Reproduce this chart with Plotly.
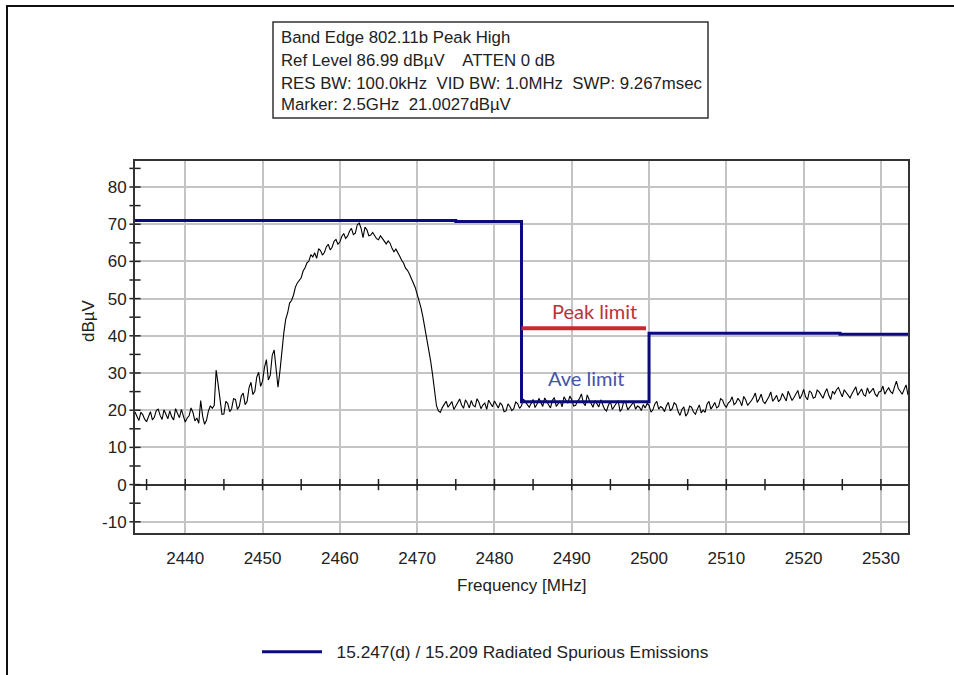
import numpy as np
import plotly.graph_objects as go

# ---------------- data ----------------
f_start, f_step = 2433.5, 0.25
spectrum_dbuv = [
    # 2433.50 - 2452.00
    19.5, 18.1, 17.2, 19.4, 18.8, 17.6, 16.9, 18.3, 19.6, 17.4, 18.1, 19.9, 20.3, 18.6, 17.5, 20.1, 18.9, 17.7, 19.8, 18.2,
    17.4, 20.4, 19.1, 18.0, 20.2, 18.7, 16.8, 17.9, 18.5, 20.6, 19.4, 17.1, 17.9, 16.5, 22.6, 18.4, 16.2, 17.3, 19.8, 21.2,
    20.5, 21.3, 30.8, 27.0, 23.5, 18.9, 19.0, 22.4, 21.8, 19.6, 20.4, 23.1, 22.9, 20.2, 21.1, 23.8, 24.6, 21.5, 22.3, 26.0,
    27.5, 24.2, 25.1, 28.9, 30.2, 26.4, 27.8, 31.5, 33.6, 28.1, 29.4, 34.7, 36.2, 31.0, 26.2,
    # 2452.25 - 2473.50
    30.5, 36.5, 40.8, 44.5, 46.2, 48.8, 49.5, 50.9, 53.1, 54.2, 54.9, 55.6, 57.4, 58.3, 59.6, 60.1, 61.8, 61.2, 62.3, 60.8,
    63.4, 62.9, 61.7, 62.4, 63.9, 64.6, 63.1, 63.8, 65.4, 65.9, 64.6, 65.2, 66.7, 67.5, 66.2, 66.8, 68.1, 68.9, 67.2, 67.6,
    69.8, 70.3, 68.9, 66.4, 69.2, 68.5, 66.9, 67.1, 67.8, 66.9, 66.1, 65.8, 66.9, 66.2, 65.3, 64.7, 65.5, 64.9, 63.5, 62.6,
    63.3, 62.1, 61.4, 60.3, 59.5, 58.2, 57.6, 56.6, 55.3, 54.5, 53.0, 51.2, 49.6, 47.5, 45.0, 42.1, 39.6, 36.8, 33.2, 29.5,
    25.0, 21.2, 19.8, 19.4, 20.7, 21.6,
    # 2473.75 - 2483.00
    22.4, 20.8, 21.6, 22.3, 20.2, 21.1, 22.0, 23.0, 21.4, 20.5, 22.8, 21.9, 20.6, 22.6, 21.3, 20.9, 23.1, 22.1, 20.4, 21.4,
    21.9, 20.2, 22.7, 21.7, 20.9, 22.5, 21.6, 20.6, 22.0, 21.3, 19.6, 19.8, 21.7, 21.0, 19.9, 20.4, 22.2, 21.8,
    # 2483.25 - 2499.50
    20.5, 21.2, 23.0, 22.4, 21.5, 20.8, 22.1, 22.9, 20.7, 21.6, 23.2, 22.1, 21.0, 23.3, 22.5, 21.4, 20.6, 22.7, 23.4, 21.0,
    21.8, 22.5, 20.9, 23.6, 22.7, 21.9, 23.8, 22.8, 21.1, 21.3, 22.4, 23.1, 24.4, 22.0, 21.2, 24.1, 22.9, 21.7, 20.8, 22.6,
    21.8, 20.9, 22.8, 21.5, 20.3, 19.8, 21.4, 22.3, 20.2, 21.0, 21.9, 22.6, 19.7, 20.4, 22.5, 21.9, 20.1, 20.7, 21.6, 22.2,
    20.3, 21.1, 20.8, 19.9, 21.5, 20.6,
    # 2499.75 - 2507.00
    21.8, 21.3, 19.5, 20.1, 21.7, 22.4, 20.3, 21.0, 20.6, 19.6, 21.2, 22.1, 19.8, 20.4, 22.0, 21.5, 19.7, 18.6, 20.2, 20.9,
    18.4, 19.2, 21.1, 20.8, 19.5, 18.9, 20.3, 21.4, 19.3, 20.0,
    # 2507.25 - 2533.50
    19.4, 21.6, 22.4, 20.3, 21.1, 22.1, 20.6, 21.0, 23.1, 22.7, 21.4, 20.8, 21.9, 22.4, 23.6, 21.5, 22.0, 23.2, 22.5, 21.2,
    23.7, 22.8, 21.3, 21.9, 22.6, 23.5, 24.6, 22.1, 23.0, 24.3, 22.4, 21.8, 22.7, 23.6, 24.9, 22.4, 23.1, 24.0, 22.3, 22.9,
    24.5, 23.4, 22.5, 25.1, 23.9, 22.6, 23.4, 24.2, 25.3, 23.1, 24.0, 25.6, 23.6, 22.8, 25.2, 24.7, 23.2, 23.5, 25.4, 24.9,
    23.9, 23.2, 24.7, 25.8, 24.0, 22.9, 25.1, 24.4, 25.5, 26.1, 24.8, 23.6, 25.5, 24.8, 23.9, 23.3, 24.4, 25.2, 26.3, 24.0,
    24.8, 25.7, 24.2, 23.8, 26.0, 24.6, 25.2, 25.9, 24.3, 23.7, 24.9, 25.1, 26.5, 24.3, 25.3, 26.0, 25.0, 24.5, 26.2, 27.8,
    25.8, 24.9, 24.3, 25.6, 26.8, 24.1,
]
spectrum_freq = f_start + f_step * np.arange(len(spectrum_dbuv))

limit_freq = [2433.5, 2475.0, 2483.5, 2500.0, 2524.7, 2533.5]
limit_dbuv = [71.0, 70.7, 22.3, 40.7, 40.4, 40.4]

peak_freq = [2483.5, 2499.6]
peak_dbuv = [42.0, 42.0]

x_range = [2433.5, 2533.5]
y_range = [-13.01, 86.99]
x_ticks = list(range(2440, 2531, 10))
y_ticks = list(range(-10, 81, 10))
y_tick_labels = ["-10", "0", "10", "20", "30", "40", "50", "60", "70", "80"]
x_minor_ticks = list(range(2435, 2531, 5))
y_minor_ticks = list(range(-10, 86, 5))

info_lines = [
    "Band Edge 802.11b Peak High",
    "Ref Level 86.99 dBµV    ATTEN 0 dB",
    "RES BW: 100.0kHz  VID BW: 1.0MHz  SWP: 9.267msec",
    "Marker: 2.5GHz  21.0027dBµV",
]
legend_name = "15.247(d) / 15.209 Radiated Spurious Emissions"

# ---------------- layout geometry (pixels) ----------------
W, H = 954, 675
L, R, T, B = 135, 46, 161, 142
PW, PH = W - L - R, H - T - B


def px_x(p):
    return (p - L) / PW


def px_y(p):
    return (H - B - p) / PH


FONT = "Liberation Sans, Arial, sans-serif"
LABEL_FONT = "Lato, Open Sans, sans-serif"
INK = "#222222"

fig = go.Figure()

fig.add_trace(go.Scatter(
    x=spectrum_freq, y=spectrum_dbuv, mode="lines",
    line=dict(color="black", width=1.1), showlegend=False, hoverinfo="skip"))

fig.add_trace(go.Scatter(
    x=limit_freq, y=limit_dbuv, mode="lines", line_shape="hv",
    line=dict(color="#0b0b7e", width=3),
    name="\u00a0\u00a0" + legend_name, showlegend=True))

fig.add_trace(go.Scatter(
    x=peak_freq, y=peak_dbuv, mode="lines",
    line=dict(color="#c42a2f", width=4), showlegend=False, hoverinfo="skip"))

# tick marks crossing the zero line
fig.add_trace(go.Scatter(
    x=x_minor_ticks, y=[0] * len(x_minor_ticks), mode="markers",
    marker=dict(symbol="line-ns", size=8, line=dict(color=INK, width=1.5)),
    showlegend=False, hoverinfo="skip", cliponaxis=False))

# tick marks crossing the y axis line
fig.add_trace(go.Scatter(
    x=[x_range[0]] * len(y_minor_ticks), y=y_minor_ticks, mode="markers",
    marker=dict(symbol="line-ew", size=8, line=dict(color=INK, width=1.5)),
    showlegend=False, hoverinfo="skip", cliponaxis=False))

fig.update_layout(
    width=W, height=H,
    margin=dict(l=L, r=R, t=T, b=B, autoexpand=False),
    paper_bgcolor="white", plot_bgcolor="white",
    font=dict(family=FONT, size=17, color=INK),
    xaxis=dict(
        range=x_range, tickvals=x_ticks, ticks="outside", ticklen=9,
        tickcolor="rgba(0,0,0,0)", showgrid=True, gridcolor="#c4c4c4",
        gridwidth=1.5, showline=True, linecolor="#333333", linewidth=2,
        mirror=True, zeroline=False, tickfont=dict(size=17),
        automargin=False),
    yaxis=dict(
        range=y_range, tickvals=y_ticks, ticktext=y_tick_labels,
        ticks="outside", ticklen=3,
        tickcolor="rgba(0,0,0,0)", showgrid=True, gridcolor="#c4c4c4",
        gridwidth=1.5, showline=True, linecolor="#333333", linewidth=2,
        mirror=True, zeroline=True, zerolinecolor="#333333",
        zerolinewidth=2, tickfont=dict(size=17), automargin=False),
    legend=dict(
        orientation="h", xref="container", yref="container",
        x=257 / W, y=(H - 652) / H, xanchor="left", yanchor="middle",
        font=dict(size=17.3), bgcolor="rgba(0,0,0,0)", itemwidth=60),
    showlegend=True,
)

annotations = [
    dict(text="dBµV", x=px_x(88), y=px_y(321), xref="paper", yref="paper",
         xanchor="center", yanchor="middle",
         textangle=-90, showarrow=False, font=dict(size=17)),
    dict(text="Frequency [MHz]", x=px_x(521), y=px_y(585), xref="paper",
         yref="paper", xanchor="center", yanchor="middle",
         showarrow=False, font=dict(size=17)),
    dict(text="Peak limit", x=2493.0, y=46.7, xref="x", yref="y",
         xanchor="center", yanchor="middle", showarrow=False,
         font=dict(family=LABEL_FONT, size=20, color="#b83439")),
    dict(text="Ave limit", x=2491.8, y=28.6, xref="x", yref="y",
         xanchor="center", yanchor="middle", showarrow=False,
         font=dict(family=LABEL_FONT, size=20, color="#4454a8")),
]
line_y = [37.7, 60.0, 83.3, 104.3]
for txt, yy in zip(info_lines, line_y):
    annotations.append(dict(
        text=txt, x=px_x(279), y=px_y(yy), xref="paper", yref="paper",
        xanchor="left", yanchor="middle", showarrow=False,
        font=dict(size=16.8)))
fig.update_layout(annotations=annotations)

shapes = [
    # info box
    dict(type="rect", xref="paper", yref="paper",
         x0=px_x(273), x1=px_x(708), y0=px_y(118), y1=px_y(22),
         line=dict(color="#333333", width=1.5)),
    # outer frame (left and top edges)
    dict(type="path", xref="paper", yref="paper",
         path=f"M {px_x(7)} {px_y(H + 5)} L {px_x(7)} {px_y(6)} L {px_x(W + 5)} {px_y(6)}",
         line=dict(color="#111111", width=2)),
]
fig.update_layout(shapes=shapes)

fig.write_html("out.html")
